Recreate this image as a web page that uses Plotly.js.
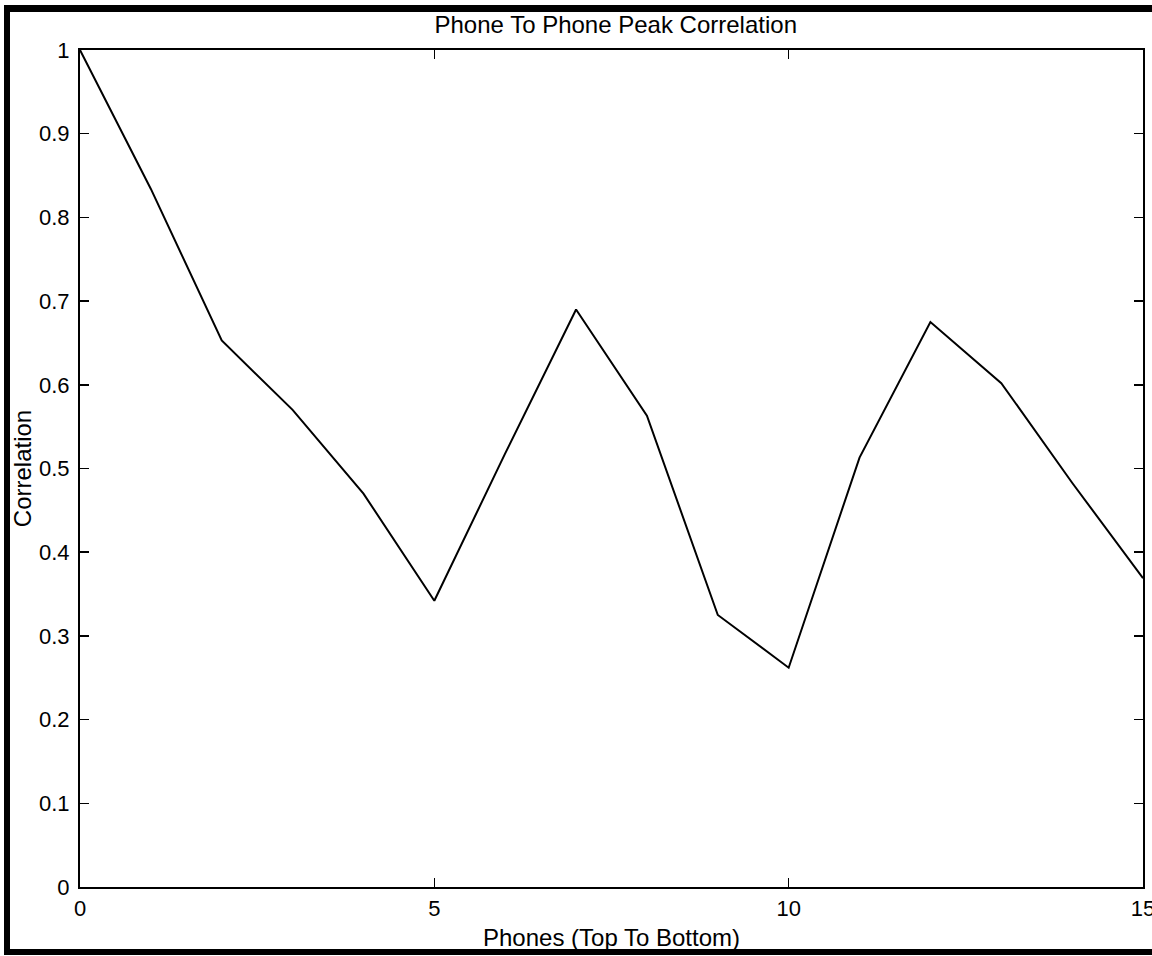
<!DOCTYPE html>
<html>
<head>
<meta charset="utf-8">
<script src="https://cdn.plot.ly/plotly-3.0.1.min.js"></script>
<style>
  html, body { margin: 0; padding: 0; background: #fff; overflow: hidden; }
  #wrap { position: relative; width: 1152px; height: 956px; overflow: hidden; }
  #chart { position: absolute; left: 0; top: 0; width: 1152px; height: 956px; }
  #frame {
    position: absolute; left: 4px; top: 5px; width: 1160px; height: 950px;
    box-sizing: border-box; border-left: 6px solid #000; border-top: 7px solid #000;
    border-bottom: 6px solid #000; pointer-events: none;
  }
</style>
</head>
<body>
<div id="wrap">
  <div id="chart"></div>
  <div id="frame"></div>
</div>
<script>
// Data
const phones = [0, 1, 2, 3, 4, 5, 6, 7, 8, 9, 10, 11, 12, 13, 14, 15];
const correlation = [1.0, 0.834, 0.653, 0.570, 0.470, 0.342, 0.518, 0.690, 0.563, 0.325, 0.262, 0.513, 0.675, 0.602, 0.483, 0.369];
const xTickVals = [0, 5, 10, 15];
const yTickVals = [0, 0.1, 0.2, 0.3, 0.4, 0.5, 0.6, 0.7, 0.8, 0.9, 1];

const FONT = '"Liberation Sans", Arial, Helvetica, sans-serif';

const trace = {
  x: phones,
  y: correlation,
  type: 'scatter',
  mode: 'lines',
  line: { color: '#000', width: 2 },
  hoverinfo: 'x+y'
};

const axisCommon = {
  showgrid: false,
  zeroline: false,
  showline: true,
  linecolor: '#000',
  linewidth: 2,
  mirror: 'ticks',
  ticks: 'inside',
  ticklen: 9,
  tickwidth: 1.5,
  tickcolor: '#000',
  tickfont: { family: FONT, size: 22, color: '#000' }
};

const layout = {
  width: 1152,
  height: 956,
  paper_bgcolor: '#fff',
  plot_bgcolor: '#fff',
  showlegend: false,
  margin: { l: 80, r: 9, t: 50, b: 69, pad: 0 },
  font: { family: FONT, size: 22, color: '#000' },
  title: {
    text: 'Phone To Phone Peak Correlation',
    font: { family: FONT, size: 24, color: '#000' },
    x: 0.504, xanchor: 'center', xref: 'paper',
    y: 1 - 25 / 956, yanchor: 'middle', yref: 'container'
  },
  xaxis: Object.assign({}, axisCommon, {
    range: [0, 15],
    tickmode: 'array',
    tickvals: xTickVals,
    ticktext: xTickVals.map(String),
    ticklabelstandoff: 1,
    ticklabeloverflow: 'allow',
    title: { text: 'Phones (Top To Bottom)', font: { family: FONT, size: 24, color: '#000' }, standoff: 9 }
  }),
  yaxis: Object.assign({}, axisCommon, {
    range: [0, 1],
    tickmode: 'array',
    tickvals: yTickVals,
    ticktext: yTickVals.map(String),
    ticklabelstandoff: 4,
    title: { text: 'Correlation', font: { family: FONT, size: 24, color: '#000' }, standoff: 1 }
  })
};

Plotly.newPlot('chart', [trace], layout, { displayModeBar: false, staticPlot: true });
</script>
</body>
</html>
